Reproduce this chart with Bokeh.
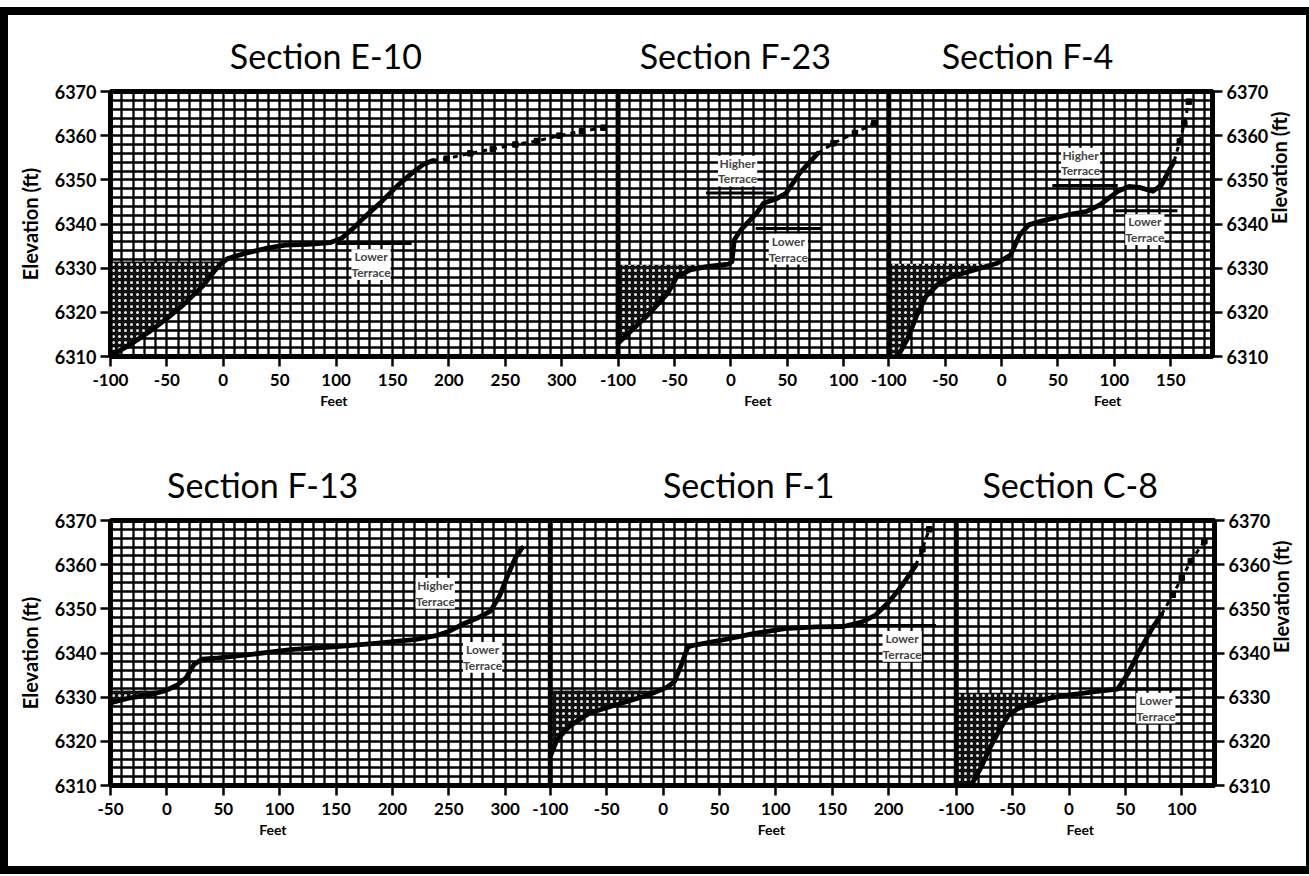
import math
import numpy as np
from bokeh.plotting import figure
from bokeh.models import Range1d, FixedTicker, LinearAxis, Span, Label, Spacer
from bokeh.layouts import column
from bokeh.embed import file_html
from bokeh.resources import INLINE

# ---------------- data ----------------
ELEV_RANGE = (6310, 6370)
ELEV_TICKS = [6310, 6320, 6330, 6340, 6350, 6360, 6370]

# Section E-10
E10_XLIM = (-100, 350)
E10_TICKS = [-100, -50, 0, 50, 100, 150, 200, 250, 300]
E10_X = [-97, -82, -65, -49, -35, -18, -8, -2, 4, 20, 40, 55, 75, 95, 105, 115, 125, 140, 155, 168, 178, 186]
E10_Z = [6310.5, 6312.8, 6315.7, 6318.8, 6321.8, 6326.0, 6329.3, 6331.0, 6332.2, 6333.4, 6334.6, 6335.2,
         6335.4, 6335.8, 6336.8, 6339.0, 6341.5, 6345.0, 6348.8, 6351.7, 6353.6, 6354.4]
E10_EXT_X = [198, 219, 239, 259, 278, 298, 318, 337]
E10_EXT_Z = [6354.8, 6356.0, 6357.0, 6358.0, 6358.8, 6360.0, 6361.0, 6361.8]
E10_WATER = 6331.5
E10_TERRACES = [("Lower\nTerrace", 131, 6330.8, 100, 167, 6335.6)]

# Section F-23
F23_XLIM = (-100, 140)
F23_TICKS = [-100, -50, 0, 50, 100]
F23_X = [-100, -86, -72, -56, -48, -36, -20, -2, 1, 3, 9, 23, 29, 41, 49, 61, 77]
F23_Z = [6313.0, 6316.4, 6319.8, 6324.3, 6328.0, 6329.6, 6330.4, 6330.9, 6331.5, 6336.4, 6338.7,
         6342.5, 6344.7, 6345.8, 6347.0, 6351.5, 6356.0]
F23_EXT_X = [91, 110, 127]
F23_EXT_Z = [6358.3, 6360.6, 6362.8]
F23_WATER = 6330.8
F23_TERRACES = [("Higher\nTerrace", 6, 6352.0, -22, 38, 6347.0),
                ("Lower\nTerrace", 51, 6334.3, 22, 80, 6339.0)]

# Section F-4
F4_XLIM = (-100, 187)
F4_TICKS = [-100, -50, 0, 50, 100, 150]
F4_X = [-91, -83, -75, -67, -57, -44, -24, -4, 8, 16, 24, 36, 59, 75, 87, 103, 113, 122, 134, 142, 148, 153]
F4_Z = [6310.4, 6314.2, 6319.4, 6323.6, 6326.2, 6328.1, 6329.6, 6331.1, 6333.0, 6337.5, 6339.8,
        6340.7, 6342.1, 6342.8, 6344.3, 6347.4, 6348.5, 6348.3, 6347.4, 6348.9, 6351.9, 6354.2]
F4_EXT_X = [158, 162, 166]
F4_EXT_Z = [6358.7, 6362.8, 6367.7]
F4_WATER = 6331.0
F4_TERRACES = [("Higher\nTerrace", 70, 6353.8, 45, 103, 6348.7),
               ("Lower\nTerrace", 127, 6338.7, 99, 156, 6343.0)]

# Section F-13
F13_XLIM = (-50, 340)
F13_TICKS = [-50, 0, 50, 100, 150, 200, 250, 300]
F13_X = [-48.5, -35, -16, -2, 9, 17, 24, 31, 46, 75, 112, 148, 185, 221, 240, 251, 262, 276, 287, 295, 302, 309, 315]
F13_Z = [6328.8, 6329.7, 6330.5, 6331.4, 6332.7, 6334.4, 6337.4, 6338.6, 6338.9, 6339.7, 6340.8, 6341.4,
         6342.2, 6343.1, 6344.0, 6345.0, 6346.5, 6348.0, 6349.5, 6352.9, 6357.4, 6361.5, 6363.8]
F13_EXT_X = []
F13_EXT_Z = []
F13_WATER = 6331.5
F13_TERRACES = [("Higher\nTerrace", 238, 6353.5, None, None, None),
                ("Lower\nTerrace", 280, 6339.0, 256, 313, 6344.0)]

# Section F-1
F1_XLIM = (-100, 260)
F1_TICKS = [-100, -50, 0, 50, 100, 150, 200]
F1_X = [-100, -94, -83, -65, -45, -28, -12, 4, 10, 16, 22, 28, 52, 80, 108, 136, 160, 176, 188, 200, 212, 224]
F1_Z = [6316.6, 6320.4, 6323.4, 6326.4, 6328.0, 6329.3, 6330.6, 6332.3, 6333.5, 6337.2, 6341.4, 6341.8,
        6342.9, 6344.4, 6345.5, 6345.9, 6346.0, 6347.0, 6348.5, 6351.5, 6355.3, 6359.8]
F1_EXT_X = [230, 236]
F1_EXT_Z = [6363.5, 6368.0]
F1_WATER = 6331.5
F1_TERRACES = [("Lower\nTerrace", 212, 6341.5, 172, 242, 6346.2)]

# Section C-8
C8_XLIM = (-100, 129)
C8_TICKS = [-100, -50, 0, 50, 100]
C8_X = [-86, -78, -70, -62, -54, -46, -31, -15, 1, 25, 43, 52, 64, 74, 82]
C8_Z = [6310.4, 6314.1, 6318.6, 6322.4, 6325.8, 6327.3, 6328.8, 6329.9, 6330.5, 6331.3, 6331.8,
        6335.2, 6341.2, 6345.7, 6348.7]
C8_EXT_X = [92, 100, 108, 120]
C8_EXT_Z = [6353.2, 6357.0, 6360.8, 6365.3]
C8_WATER = 6331.0
C8_TERRACES = [("Lower\nTerrace", 77, 6327.5, 43, 108, 6331.8)]

SECTIONS_TOP = [
    dict(name="Section E-10", xlim=E10_XLIM, ticks=E10_TICKS, x=E10_X, z=E10_Z, ex=E10_EXT_X, ez=E10_EXT_Z,
         water=E10_WATER, terraces=E10_TERRACES, title_at=91, feet_at=98),
    dict(name="Section F-23", xlim=F23_XLIM, ticks=F23_TICKS, x=F23_X, z=F23_Z, ex=F23_EXT_X, ez=F23_EXT_Z,
         water=F23_WATER, terraces=F23_TERRACES, title_at=4, feet_at=24),
    dict(name="Section F-4", xlim=F4_XLIM, ticks=F4_TICKS, x=F4_X, z=F4_Z, ex=F4_EXT_X, ez=F4_EXT_Z,
         water=F4_WATER, terraces=F4_TERRACES, title_at=23, feet_at=94),
]
SECTIONS_BOTTOM = [
    dict(name="Section F-13", xlim=F13_XLIM, ticks=F13_TICKS, x=F13_X, z=F13_Z, ex=F13_EXT_X, ez=F13_EXT_Z,
         water=F13_WATER, terraces=F13_TERRACES, title_at=85, feet_at=94),
    dict(name="Section F-1", xlim=F1_XLIM, ticks=F1_TICKS, x=F1_X, z=F1_Z, ex=F1_EXT_X, ez=F1_EXT_Z,
         water=F1_WATER, terraces=F1_TERRACES, title_at=76, feet_at=96),
    dict(name="Section C-8", xlim=C8_XLIM, ticks=C8_TICKS, x=C8_X, z=C8_Z, ex=C8_EXT_X, ez=C8_EXT_Z,
         water=C8_WATER, terraces=C8_TERRACES, title_at=1, feet_at=10),
]

FONT = "Lato"
FRAME_H = 265


def water_outline(xs, zs, water):
    xs = np.asarray(xs, float)
    zs = np.asarray(zs, float)
    k = int(np.argmax(zs > water))
    zz = np.append(zs[:k], water)
    xx = np.append(xs[:k], np.interp(water, zs[k - 1:k + 1], xs[k - 1:k + 1]))
    return zz, xx


def style_axis(ax, label_size="18px"):
    ax.major_label_text_font = FONT
    ax.major_label_text_font_style = "bold"
    ax.major_label_text_font_size = label_size
    ax.major_label_text_color = "black"
    ax.major_tick_out = 10
    ax.major_tick_in = 0
    ax.major_tick_line_width = 2.5
    ax.major_tick_line_color = "black"
    ax.minor_tick_line_color = None
    ax.axis_line_width = 4
    ax.axis_line_color = "black"
    ax.axis_label_text_font = FONT
    ax.axis_label_text_font_style = "bold"
    ax.axis_label_text_font_size = "20px"
    ax.axis_label_text_color = "black"


def text_axis(positions, labels, font_size, style, standoff):
    ax = LinearAxis(ticker=FixedTicker(ticks=positions),
                    major_label_overrides=dict(zip(positions, labels)),
                    major_tick_out=0, major_tick_in=0, major_tick_line_color=None,
                    minor_tick_line_color=None, axis_line_color=None,
                    major_label_standoff=standoff,
                    major_label_text_font=FONT, major_label_text_font_style=style,
                    major_label_text_font_size=font_size, major_label_text_color="black")
    return ax


def make_row(sections, frame_w, left, right, top, bottom):
    spans = [s["xlim"][1] - s["xlim"][0] for s in sections]
    offsets = [0] + list(np.cumsum(spans)[:-1])
    total = float(sum(spans))

    p = figure(x_range=Range1d(0, total), y_range=Range1d(*ELEV_RANGE),
               frame_width=frame_w, frame_height=FRAME_H,
               min_border_left=left, min_border_right=right,
               min_border_top=top, min_border_bottom=bottom,
               output_backend="svg", toolbar_location=None,
               background_fill_color="white", border_fill_color="white")

    # dense grid: every 10 ft horizontally, every 2 ft vertically
    p.xgrid.ticker = FixedTicker(ticks=list(np.arange(0, total + 0.1, 10)))
    p.ygrid.ticker = FixedTicker(ticks=list(range(ELEV_RANGE[0], ELEV_RANGE[1] + 1, 2)))
    p.grid.grid_line_color = "black"
    p.grid.grid_line_width = 2.3
    p.grid.grid_line_alpha = 1.0

    p.outline_line_color = "black"
    p.outline_line_width = 5
    p.outline_line_alpha = 1.0

    xticks, overrides = [], {}
    title_x, title_txt, feet_x = [], [], []
    for s, off in zip(sections, offsets):
        xmin = s["xlim"][0]

        def vx(v, off=off, xmin=xmin):
            return off + (np.asarray(v, float) - xmin)

        for t in s["ticks"]:
            pos = float(vx(t))
            xticks.append(pos)
            overrides[pos] = str(t)

        # water fill (stippled)
        zz, xx = water_outline(s["x"], s["z"], s["water"])
        p.harea(y=zz, x1=vx(np.full(len(zz), xmin)), x2=vx(xx),
                fill_color="#111111", hatch_pattern="dot", hatch_color="white",
                hatch_scale=6, hatch_weight=1.4, hatch_alpha=0.9)

        # terrace lines and labels
        for (txt, lx, lz, x0, x1, tz) in s["terraces"]:
            if x0 is not None:
                p.segment(x0=[float(vx(x0))], y0=[tz], x1=[float(vx(x1))], y1=[tz],
                          line_color="black", line_width=3)
            p.add_layout(Label(x=float(vx(lx)), y=lz, text=txt, text_font=FONT,
                               text_font_style="bold", text_font_size="12px",
                               text_align="center", text_baseline="middle",
                               text_line_height=1.05,
                               background_fill_color="white", background_fill_alpha=1.0))

        # profile
        p.line(vx(s["x"]), s["z"], line_color="black", line_width=4.8,
               line_join="round", line_cap="round")
        if len(s["ex"]):
            ex = [s["x"][-1]] + list(s["ex"])
            ez = [s["z"][-1]] + list(s["ez"])
            p.line(vx(ex), ez, line_color="black", line_width=3, line_dash="5 5")
            p.scatter(vx(s["ex"]), s["ez"], marker="square", size=5.5,
                      fill_color="black", line_color="black")

        title_x.append(float(vx(s["title_at"])))
        title_txt.append(s["name"])
        feet_x.append(float(vx(s["feet_at"])))

    # panel dividers
    for off in offsets[1:]:
        p.add_layout(Span(location=float(off), dimension="height",
                          line_color="black", line_width=5))

    p.xaxis.ticker = FixedTicker(ticks=xticks)
    p.xaxis.major_label_overrides = overrides
    p.xaxis.major_label_standoff = 7
    style_axis(p.xaxis[0], "17px")

    # section titles (above) and "Feet" captions (below), placed at their data positions
    p.add_layout(text_axis(title_x, title_txt, "34px", "normal", 16), "above")
    p.add_layout(text_axis(feet_x, ["Feet"] * len(feet_x), "14px", "bold", 3), "below")

    p.yaxis.ticker = FixedTicker(ticks=ELEV_TICKS)
    p.yaxis.axis_label = "Elevation (ft)"
    p.yaxis.major_label_standoff = 4
    p.yaxis.axis_label_standoff = 10
    style_axis(p.yaxis[0])

    rax = LinearAxis(ticker=FixedTicker(ticks=ELEV_TICKS), axis_label="Elevation (ft)",
                     major_label_standoff=4, axis_label_standoff=8,
                     axis_label_orientation=math.pi / 2)
    style_axis(rax)
    p.add_layout(rax, "right")
    return p


p_top = make_row(SECTIONS_TOP, 1102, 102, 93, 76, 84)
p_bottom = make_row(SECTIONS_BOTTOM, 1104, 100, 93, 80, 81)

framed = column(p_top, p_bottom, spacing=0,
                styles={"border-left": "8px solid black", "border-top": "8px solid black",
                        "border-bottom": "8px solid black", "border-right": "3px solid black",
                        "background-color": "white"})
layout = column(Spacer(width=20, height=7), framed, spacing=0)

open("out.html", "w").write(file_html(layout, INLINE))
